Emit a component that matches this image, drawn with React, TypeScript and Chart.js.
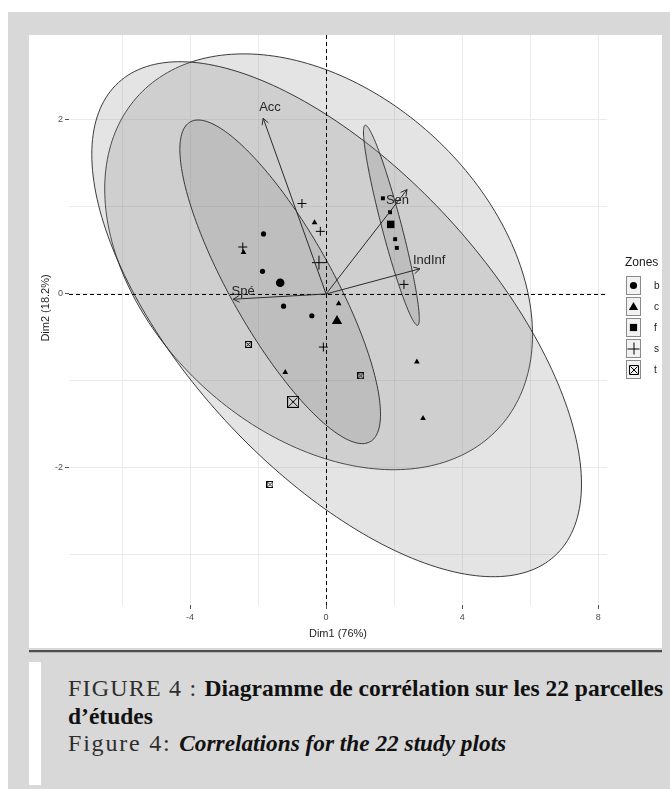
import React, { useEffect, useRef } from 'react';
import { Chart, registerables } from 'chart.js';

Chart.register(...registerables);

// ---------- data ----------
const zones = ['b', 'c', 'f', 's', 't'];

const bX = [-1.84, -1.87, -1.25, -0.42];
const bY = [0.69, 0.26, -0.14, -0.25];
const cX = [-0.34, -2.43, 0.37, -1.2, 2.67, 2.85];
const cY = [0.82, 0.48, -0.11, -0.9, -0.78, -1.43];
const fX = [1.67, 1.88, 2.03, 2.08];
const fY = [1.1, 0.94, 0.63, 0.53];
const sX = [-0.71, -0.17, -2.45, 2.29, -0.08];
const sY = [1.04, 0.72, 0.54, 0.11, -0.61];
const tX = [-2.29, 1.02, -1.65];
const tY = [-0.58, -0.94, -2.19];

// group mean points (large markers)
const meanX = [-1.35, 0.32, 1.9, -0.21, -0.97];
const meanY = [0.13, -0.31, 0.8, 0.36, -1.24];

// concentration ellipses: centre, x / y half-extent, correlation
const ellipseZones = ['s', 'c', 'b', 'f'];
const ellipseCX = [-0.22, 0.31, -1.35, 1.92];
const ellipseCY = [0.37, -0.29, 0.14, 0.79];
const ellipseSX = [6.29, 7.2, 2.95, 0.82];
const ellipseSY = [2.39, 2.96, 1.86, 1.15];
const ellipseRho = [-0.35, -0.64, -0.818, -0.932];

// variable arrows
const varNames = ['Acc', 'Sen', 'IndInf', 'Spé'];
const varX = [-1.85, 2.38, 2.76, -2.73];
const varY = [2.02, 1.2, 0.29, -0.06];
const varLabelX = [-1.65, 2.1, 3.03, -2.44];
const varLabelY = [2.14, 1.07, 0.39, 0.03];

// axes
const xTicks = [-6, -4, -2, 0, 2, 4, 6, 8];
const xLabelled = [-4, 0, 4, 8];
const yTicks = [-3, -2, -1, 0, 1, 2];
const yLabelled = [-2, 0, 2];
const xRange = [-7.56, 8.26];
const yRange = [-3.575, 2.977];
const xTitle = 'Dim1 (76%)';
const yTitle = 'Dim2 (18.2%)';
const legendTitle = 'Zones';

const SANS = "'Liberation Sans', Arial, sans-serif";

function boxX(size: number) {
  const c = document.createElement('canvas');
  c.width = size;
  c.height = size;
  const g = c.getContext('2d')!;
  g.strokeStyle = '#000';
  g.lineWidth = 1;
  g.strokeRect(0.5, 0.5, size - 1, size - 1);
  g.beginPath();
  g.moveTo(1.5, 1.5);
  g.lineTo(size - 1.5, size - 1.5);
  g.moveTo(size - 1.5, 1.5);
  g.lineTo(1.5, size - 1.5);
  g.stroke();
  return c;
}

function drawSymbol(ctx: CanvasRenderingContext2D, zone: string, x: number, y: number) {
  ctx.save();
  ctx.fillStyle = '#000';
  ctx.strokeStyle = '#000';
  ctx.lineWidth = 1;
  ctx.beginPath();
  if (zone === 'b') {
    ctx.arc(x, y, 3.6, 0, Math.PI * 2);
    ctx.fill();
  } else if (zone === 'c') {
    ctx.moveTo(x, y - 4.6);
    ctx.lineTo(x + 4.6, y + 3.4);
    ctx.lineTo(x - 4.6, y + 3.4);
    ctx.closePath();
    ctx.fill();
  } else if (zone === 'f') {
    ctx.rect(x - 3.6, y - 3.6, 7.2, 7.2);
    ctx.fill();
  } else if (zone === 's') {
    ctx.moveTo(x - 6, y + 0.5);
    ctx.lineTo(x + 6, y + 0.5);
    ctx.moveTo(x + 0.5, y - 6);
    ctx.lineTo(x + 0.5, y + 6);
    ctx.stroke();
  } else {
    const s = 9;
    const l = Math.round(x - s / 2) + 0.5;
    const t = Math.round(y - s / 2) + 0.5;
    ctx.rect(l, t, s, s);
    ctx.moveTo(l + 1, t + 1);
    ctx.lineTo(l + s - 1, t + s - 1);
    ctx.moveTo(l + s - 1, t + 1);
    ctx.lineTo(l + 1, t + s - 1);
    ctx.stroke();
  }
  ctx.restore();
}

const ellipsePlugin = {
  id: 'ellipses',
  beforeDatasetsDraw(chart: any) {
    const { ctx, chartArea, scales } = chart;
    const sx = scales.x;
    const sy = scales.y;
    ctx.save();
    ctx.beginPath();
    ctx.rect(chartArea.left, chartArea.top, chartArea.width, chartArea.height);
    ctx.clip();
    for (let i = 0; i < ellipseZones.length; i++) {
      const phi = Math.acos(ellipseRho[i]);
      ctx.beginPath();
      const n = 240;
      for (let k = 0; k <= n; k++) {
        const t = (k / n) * Math.PI * 2;
        const dx = ellipseCX[i] + ellipseSX[i] * Math.cos(t);
        const dy = ellipseCY[i] + ellipseSY[i] * Math.cos(t - phi);
        const px = sx.getPixelForValue(dx);
        const py = sy.getPixelForValue(dy);
        if (k === 0) ctx.moveTo(px, py);
        else ctx.lineTo(px, py);
      }
      ctx.closePath();
      ctx.fillStyle = 'rgba(130,130,130,0.22)';
      ctx.fill();
      ctx.strokeStyle = 'rgba(40,40,40,0.9)';
      ctx.lineWidth = 1;
      ctx.stroke();
    }
    // dashed zero lines
    const x0 = Math.round(sx.getPixelForValue(0)) + 0.5;
    const y0 = Math.round(sy.getPixelForValue(0)) + 0.5;
    ctx.setLineDash([4, 3]);
    ctx.strokeStyle = '#000';
    ctx.lineWidth = 1;
    ctx.beginPath();
    ctx.moveTo(chartArea.left, y0);
    ctx.lineTo(chartArea.right, y0);
    ctx.moveTo(x0, chartArea.top);
    ctx.lineTo(x0, chartArea.bottom);
    ctx.stroke();
    ctx.restore();
  },
};

const arrowPlugin = {
  id: 'arrows',
  afterDatasetsDraw(chart: any) {
    const { ctx, scales } = chart;
    const sx = scales.x;
    const sy = scales.y;
    const ox = sx.getPixelForValue(0);
    const oy = sy.getPixelForValue(0);
    ctx.save();
    ctx.strokeStyle = '#2a2a2a';
    ctx.lineWidth = 1;
    for (let i = 0; i < varNames.length; i++) {
      const px = sx.getPixelForValue(varX[i]);
      const py = sy.getPixelForValue(varY[i]);
      const a = Math.atan2(py - oy, px - ox);
      const h = 7;
      const w = 0.5;
      ctx.beginPath();
      ctx.moveTo(ox, oy);
      ctx.lineTo(px, py);
      ctx.moveTo(px - h * Math.cos(a - w), py - h * Math.sin(a - w));
      ctx.lineTo(px, py);
      ctx.lineTo(px - h * Math.cos(a + w), py - h * Math.sin(a + w));
      ctx.stroke();
    }
    ctx.fillStyle = '#262626';
    ctx.font = `13px ${SANS}`;
    ctx.textAlign = 'center';
    ctx.textBaseline = 'middle';
    for (let i = 0; i < varNames.length; i++) {
      ctx.fillText(varNames[i], sx.getPixelForValue(varLabelX[i]), sy.getPixelForValue(varLabelY[i]));
    }
    ctx.restore();
  },
};

const decorPlugin = {
  id: 'decor',
  afterDraw(chart: any) {
    const { ctx, chartArea } = chart;
    ctx.save();
    // axis titles
    ctx.fillStyle = '#1f1f1f';
    ctx.font = `11px ${SANS}`;
    ctx.textAlign = 'center';
    ctx.textBaseline = 'middle';
    ctx.fillText(xTitle, (chartArea.left + chartArea.right) / 2, 599);
    ctx.save();
    ctx.translate(17, 273);
    ctx.rotate(-Math.PI / 2);
    ctx.fillText(yTitle, 0, 0);
    ctx.restore();
    // legend
    const lx = 597;
    const top0 = 241;
    ctx.textAlign = 'left';
    ctx.font = `12px ${SANS}`;
    ctx.fillStyle = '#1a1a1a';
    ctx.fillText(legendTitle, 596, 228);
    ctx.font = `10px ${SANS}`;
    for (let i = 0; i < zones.length; i++) {
      const t = top0 + i * 21;
      ctx.fillStyle = '#f2f2f2';
      ctx.fillRect(lx, t, 15, 19);
      ctx.strokeStyle = '#8a8a8a';
      ctx.lineWidth = 1;
      ctx.strokeRect(lx + 0.5, t + 0.5, 14, 18);
      drawSymbol(ctx, zones[i], lx + 7.5, t + 9.5);
      ctx.fillStyle = '#1a1a1a';
      ctx.fillText(zones[i], 625, t + 10);
    }
    ctx.restore();
  },
};

export default function App() {
  const ref = useRef<HTMLCanvasElement | null>(null);

  useEffect(() => {
    if (!ref.current) return;
    const tSmall = boxX(7);
    const tBig = boxX(12);
    const pts = (xs: number[], ys: number[]) => xs.map((x, i) => ({ x, y: ys[i] }));
    const groupX = [bX, cX, fX, sX, tX];
    const groupY = [bY, cY, fY, sY, tY];
    const styles: any[] = ['circle', 'triangle', 'rect', 'cross', tSmall];
    const bigStyles: any[] = ['circle', 'triangle', 'rect', 'cross', tBig];
    const smallR = [2.6, 3.3, 2.8, 4.5, 4];
    const bigR = [4.3, 6, 5.3, 7, 6];

    const datasets: any[] = [];
    zones.forEach((z, i) => {
      datasets.push({
        label: z,
        data: pts(groupX[i], groupY[i]),
        pointStyle: styles[i],
        pointRadius: smallR[i],
        backgroundColor: '#000',
        borderColor: '#000',
        borderWidth: z === 's' ? 1 : 0,
      });
      datasets.push({
        label: z + ' mean',
        data: [{ x: meanX[i], y: meanY[i] }],
        pointStyle: bigStyles[i],
        pointRadius: bigR[i],
        backgroundColor: '#000',
        borderColor: '#000',
        borderWidth: z === 's' ? 1 : 0,
      });
    });

    const tickFont = { family: SANS, size: 9 };
    const chart = new Chart(ref.current, {
      type: 'scatter',
      data: { datasets },
      options: {
        animation: false,
        responsive: false,
        events: [],
        layout: { autoPadding: false, padding: { left: 0, top: 0, right: 55, bottom: 0 } },
        plugins: { legend: { display: false }, tooltip: { enabled: false } },
        scales: {
          x: {
            type: 'linear',
            min: xRange[0],
            max: xRange[1],
            afterBuildTicks: (s: any) => {
              s.ticks = xTicks.map((v) => ({ value: v }));
            },
            afterFit: (s: any) => {
              s.height = 43;
              s.paddingLeft = 0;
              s.paddingRight = 0;
            },
            ticks: {
              font: tickFont,
              color: '#4d4d4d',
              padding: 3,
              maxRotation: 0,
              autoSkip: false,
              callback: (v: any) => (xLabelled.includes(v) ? String(v) : ''),
            },
            grid: {
              color: '#ebebeb',
              lineWidth: 1,
              tickLength: 4,
              tickColor: (c: any) => (c.tick && xLabelled.includes(c.tick.value) ? '#555' : 'rgba(0,0,0,0)'),
            },
            border: { display: false },
          },
          y: {
            type: 'linear',
            min: yRange[0],
            max: yRange[1],
            afterBuildTicks: (s: any) => {
              s.ticks = yTicks.map((v) => ({ value: v }));
            },
            afterFit: (s: any) => {
              s.width = 40;
              s.paddingTop = 0;
              s.paddingBottom = 0;
            },
            ticks: {
              font: tickFont,
              color: '#4d4d4d',
              padding: 2,
              autoSkip: false,
              callback: (v: any) => (yLabelled.includes(v) ? String(v) : ''),
            },
            grid: {
              color: '#ebebeb',
              lineWidth: 1,
              tickLength: 4,
              tickColor: (c: any) => (c.tick && yLabelled.includes(c.tick.value) ? '#555' : 'rgba(0,0,0,0)'),
            },
            border: { display: false },
          },
        },
      } as any,
      plugins: [ellipsePlugin, arrowPlugin, decorPlugin],
    });
    return () => chart.destroy();
  }, []);

  return (
    <div style={{ position: 'absolute', left: 0, top: 0, width: 670, height: 789, background: '#fff', overflow: 'hidden' }}>
      <div style={{ position: 'absolute', left: 8, top: 12, width: 662, height: 777, background: '#d8d8d8' }} />
      <div style={{ position: 'absolute', left: 29, top: 35, width: 633, height: 613, background: '#fff' }}>
        <canvas ref={ref} width={633} height={613} style={{ display: 'block', width: 633, height: 613 }} />
      </div>
      <div style={{ position: 'absolute', left: 29, top: 650, width: 633, height: 2, background: '#4e4e4e' }} />
      <div style={{ position: 'absolute', left: 29, top: 652, width: 633, height: 1, background: '#b5b5b5' }} />
      <div style={{ position: 'absolute', left: 29, top: 662, width: 12, height: 123, background: '#fff' }} />
      <div
        style={{
          position: 'absolute',
          left: 68,
          top: 675,
          fontFamily: "'Liberation Serif', 'Times New Roman', serif",
          fontSize: 24,
          lineHeight: '27.5px',
          color: '#111',
          whiteSpace: 'nowrap',
        }}
      >
        <span style={{ color: '#2e2e2e', letterSpacing: 1.2 }}>FIGURE 4 : </span>
        <b style={{ fontSize: 23.5 }}>Diagramme de corrélation sur les 22 parcelles</b>
        <br />
        <b style={{ fontSize: 23.5 }}>d’études</b>
        <br />
        <span style={{ color: '#2e2e2e', letterSpacing: 1.8 }}>Figure 4: </span>
        <b style={{ fontSize: 23.3 }}>
          <i>Correlations for the 22 study plots</i>
        </b>
      </div>
    </div>
  );
}
